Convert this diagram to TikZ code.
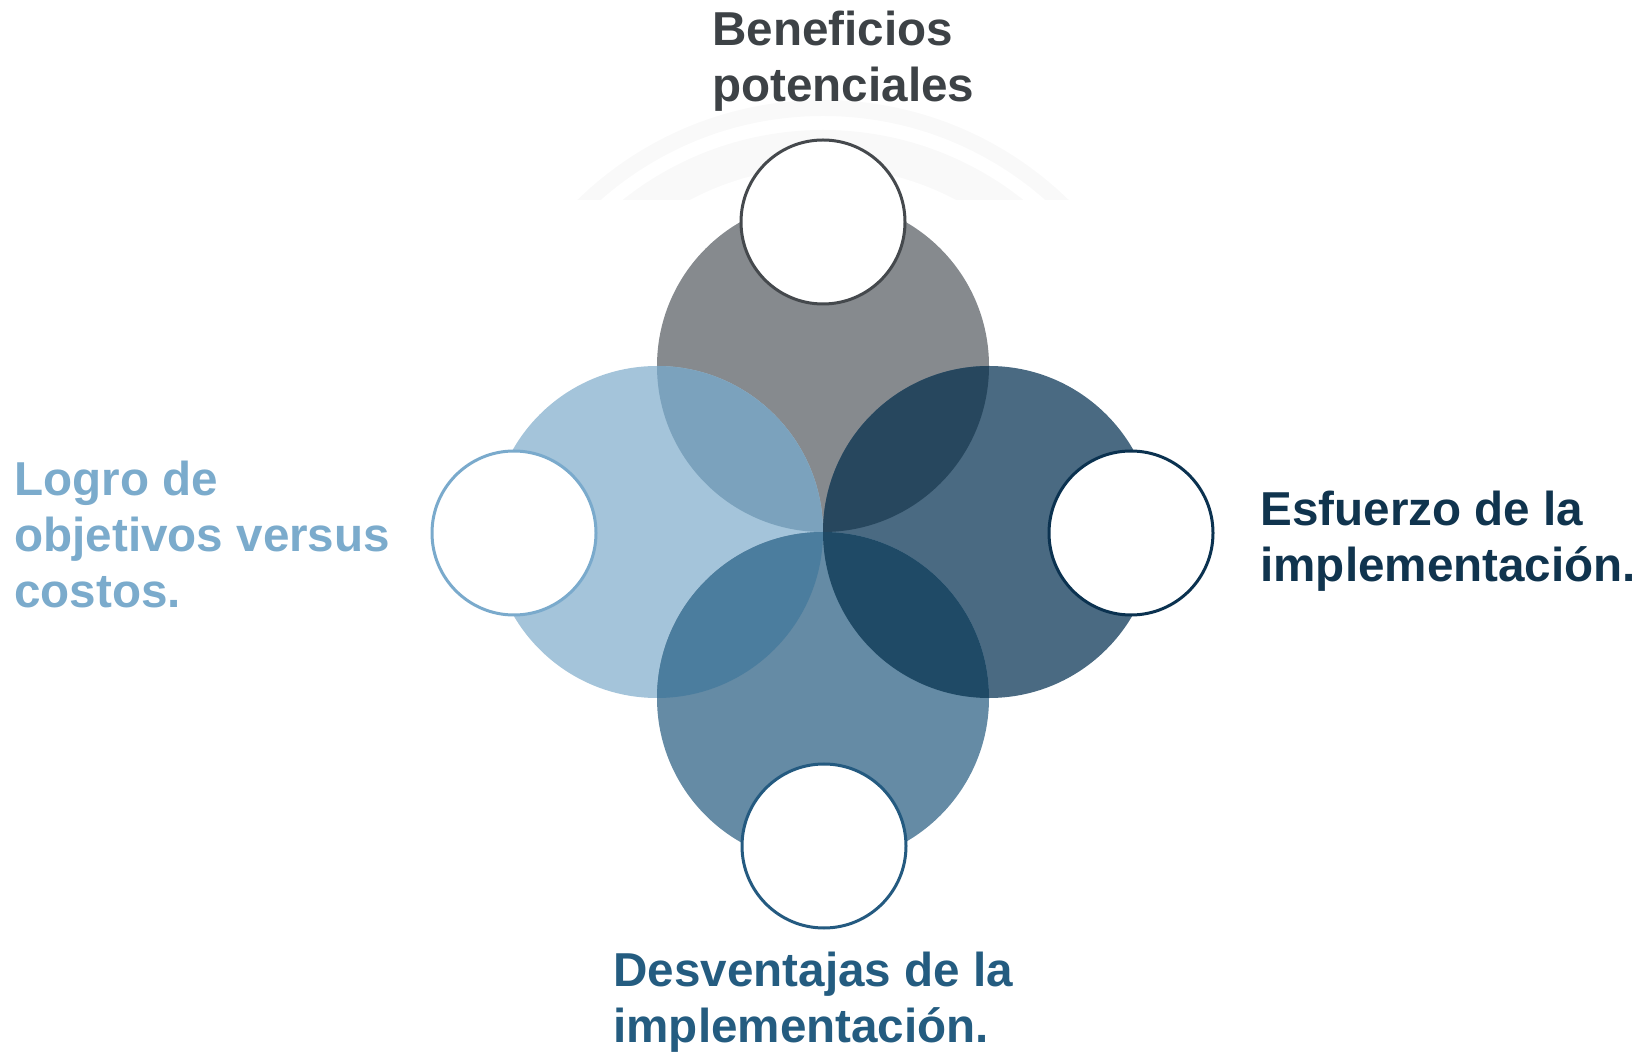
\documentclass[tikz,border=0pt]{standalone}
\usepackage{fontspec}
\setmainfont{Liberation Sans}
\definecolor{cTop}{HTML}{868A8E}
\definecolor{cLeft}{HTML}{A4C4DA}
\definecolor{cRight}{HTML}{4A6A82}
\definecolor{cBot}{HTML}{658BA5}
\definecolor{cTL}{HTML}{7BA2BD}
\definecolor{cTR}{HTML}{27475E}
\definecolor{cBL}{HTML}{4B7D9E}
\definecolor{cBR}{HTML}{1F4A66}
\definecolor{sTop}{HTML}{45494D}
\definecolor{sLeft}{HTML}{7AAACC}
\definecolor{sRight}{HTML}{0B3250}
\definecolor{sBot}{HTML}{245A80}
\definecolor{tTop}{HTML}{3D4246}
\definecolor{tLeft}{HTML}{7BABCC}
\definecolor{tRight}{HTML}{10344E}
\definecolor{tBot}{HTML}{245C80}
\definecolor{faint}{HTML}{F9F9F9}
\tikzset{
  smallc/.style={circle, fill=white, line width=1.5pt, minimum size=82pt, inner sep=0pt},
  lbl/.style={anchor=north west, inner sep=0pt, align=left,
    font=\fontsize{23.8}{28}\selectfont\bfseries},
}
\begin{document}
\begin{tikzpicture}[x=0.5pt,y=-0.5pt]
\useasboundingbox (0,0) rectangle (1644,1052);
% faint background arcs
\begin{scope}
  \clip (0,0) rectangle (1644,200);
  \fill[faint, even odd rule] (823,452) circle[radius=352] (823,452) circle[radius=336];
  \fill[faint, even odd rule] (823,452) circle[radius=322] (823,452) circle[radius=285];
\end{scope}
% centres of the large circles
\coordinate (T) at (823,366);
\coordinate (L) at (657,532);
\coordinate (R) at (989,532);
\coordinate (B) at (823,698);
\fill[cTop] (T) circle[radius=166];
\fill[cLeft] (L) circle[radius=166];
\fill[cRight] (R) circle[radius=166];
\fill[cBot] (B) circle[radius=166];
\begin{scope}
  \clip (T) circle[radius=166];
  \fill[cTL] (L) circle[radius=166];
  \fill[cTR] (R) circle[radius=166];
\end{scope}
\begin{scope}
  \clip (B) circle[radius=166];
  \fill[cBL] (L) circle[radius=166];
  \fill[cBR] (R) circle[radius=166];
\end{scope}
% small white circles
\node[smallc, draw=sTop] (st) at (823,222) {};
\node[smallc, draw=sLeft] (sl) at (514,533) {};
\node[smallc, draw=sRight] (sr) at (1131,533) {};
\node[smallc, draw=sBot] (sb) at (824,846) {};
% labels
\node[lbl, text=tTop] (lt) at (712,11) {Beneficios\\potenciales};
\node[lbl, text=tLeft] (ll) at (14,461) {Logro de\\objetivos versus\\costos.};
\node[lbl, text=tRight] (lr) at (1260,491) {Esfuerzo de la\\implementación.};
\node[lbl, text=tBot] (lb) at (613,952) {Desventajas de la\\implementación.};
\end{tikzpicture}
\end{document}
